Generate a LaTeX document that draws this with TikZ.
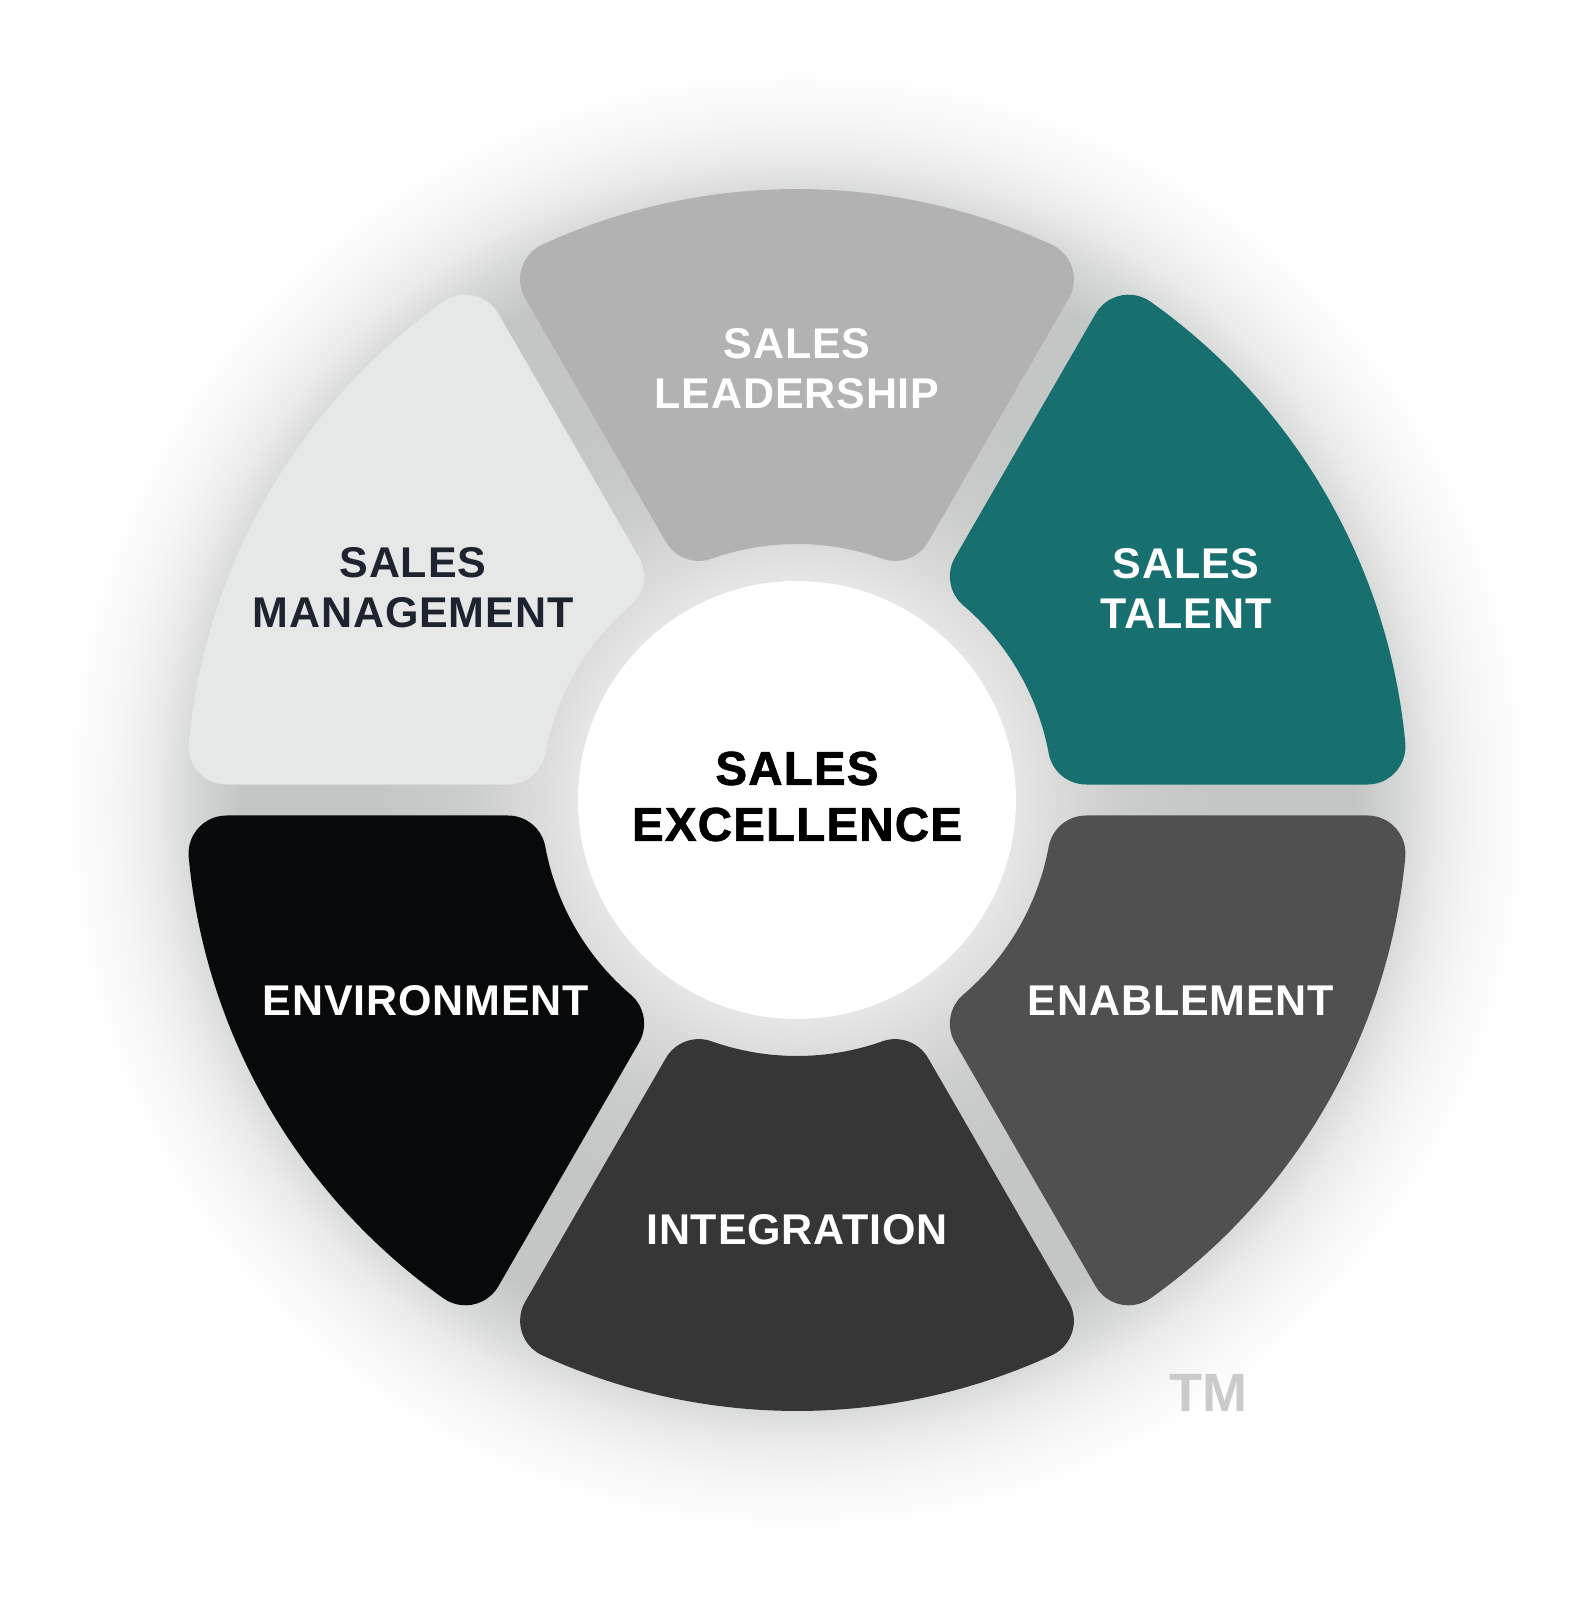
\documentclass[tikz,border=0pt]{standalone}
\usepackage{fontspec}
\setmainfont{Liberation Sans}
\newfontfamily\segfont{Liberation Sans}[LetterSpace=2]
\newfontfamily\hubfont{Liberation Sans}[LetterSpace=2.5, BoldFeatures={FakeBold=1.5}]
\usetikzlibrary{positioning,calc}

\definecolor{leadgray}{HTML}{B2B2B2}
\definecolor{talentteal}{HTML}{176F70}
\definecolor{mgmtgray}{HTML}{E6E7E7}
\definecolor{envblack}{HTML}{07090B}
\definecolor{integgray}{HTML}{363636}
\definecolor{enabgray}{HTML}{505050}
\definecolor{mgmtink}{HTML}{1D2430}
\definecolor{tmgray}{HTML}{CBCBCB}
\definecolor{glowin}{HTML}{E6E6E6}
\definecolor{glowA}{HTML}{DCDCDC}
\definecolor{glowB}{HTML}{CBCCCC}
\definecolor{glowC}{HTML}{C4C6C6}
\definecolor{glowD}{HTML}{D9DADA}
\definecolor{glowE}{HTML}{EBEBEB}
\definecolor{glowF}{HTML}{F6F6F6}

\pgfdeclareradialshading{wheelglow}{\pgfpoint{0bp}{0bp}}{%
  color(0bp)=(glowin); color(6.7bp)=(glowin); color(7.8bp)=(glowA);
  color(10bp)=(glowB); color(12.8bp)=(glowC); color(17bp)=(glowC);
  color(18.6bp)=(glowD); color(19.6bp)=(glowE); color(20.8bp)=(glowF);
  color(22.4bp)=(white); color(50bp)=(white)}

\newcommand\wheelseg[2]{%
  \begin{scope}[rotate=#1]
    \fill[#2] (-\outang:611) arc[start angle=-\outang, end angle=\outang, radius=611]
      arc[start angle=\outang, end angle=120, radius=38]
      -- ($(\inang:294)+(120:38)$)
      arc[start angle=120, end angle=180+\inang, radius=38]
      arc[start angle=\inang, end angle=-\inang, radius=256]
      arc[start angle=180-\inang, end angle=240, radius=38]
      -- ($(-\outang:573)+(240:38)$)
      arc[start angle=240, end angle=360-\outang, radius=38]
      -- cycle;
  \end{scope}}

\begin{document}
\begin{tikzpicture}[x=1pt,y=1pt,
    seglabel/.style={font=\segfont\bfseries\fontsize{43}{50}\selectfont, align=center, text=white},
    hubtext/.style={font=\hubfont\bfseries\fontsize{47.5}{56}\selectfont, align=center}]
  \useasboundingbox (-797,-800) rectangle (797,800);
  \fill[white] (-797,-800) rectangle (797,800);
  \shade[shading=wheelglow] (0,0) circle[radius=820];
  \pgfmathsetmacro\outang{30-asin(53.5/573)}
  \pgfmathsetmacro\inang{30-asin(53.5/294)}
  \wheelseg{90}{leadgray}
  \wheelseg{30}{talentteal}
  \wheelseg{-30}{enabgray}
  \wheelseg{-90}{integgray}
  \wheelseg{-150}{envblack}
  \wheelseg{150}{mgmtgray}
  \fill[white] (0,0) circle[radius=219];
  \node[seglabel] (lead) at (0,431) {SALES\\LEADERSHIP};
  \node[seglabel] (talent) at (389,212) {SALES\\TALENT};
  \node[seglabel, text=mgmtink] (mgmt) at (-384,212) {SALES\\MANAGEMENT};
  \node[seglabel] (env) at (-371,-201) {ENVIRONMENT};
  \node[seglabel] (enab) at (384,-201) {ENABLEMENT};
  \node[seglabel] (integ) at (0,-430) {INTEGRATION};
  \node[hubtext] (excel) at (0,3.5) {SALES\\EXCELLENCE};
  \node[font=\bfseries\fontsize{54}{60}\selectfont, text=tmgray] (tm) at (411,-593) {TM};
\end{tikzpicture}
\end{document}
